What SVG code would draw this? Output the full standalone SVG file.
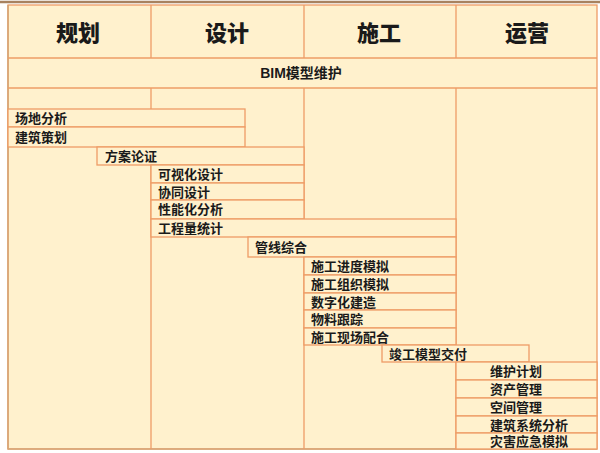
<svg xmlns="http://www.w3.org/2000/svg" width="600" height="453" viewBox="0 0 600 453">
<style>
.ln{stroke:#EE9C66;stroke-width:1.3;fill:none}
.bar{fill:#FFF1CD;stroke:#EE9C66;stroke-width:1.3}
.hd{font-family:"Noto Sans CJK SC","Liberation Sans",sans-serif;font-weight:900;font-size:22px;fill:#1a1a1a;text-anchor:middle}
.t{font-family:"Liberation Sans","Noto Sans CJK SC",sans-serif;font-weight:bold;font-size:13px;fill:#1a1a1a}
</style>
<rect x="0" y="0" width="600" height="453" fill="#ffffff"/>
<line x1="0" y1="2" x2="600" y2="2" stroke="#A8825F" stroke-width="2.5"/>
<g id="frame">
<rect x="8" y="5" width="589" height="444" fill="#FFF1CD" stroke="#EE9C66" stroke-width="1.3"/>
<line x1="8" y1="5" x2="8" y2="449.5" stroke="#D6A676" stroke-width="1.6"/>
<line x1="8" y1="449" x2="597" y2="449" stroke="#D6A676" stroke-width="1.6"/>
</g>
<g id="connectors">
<line class="ln" x1="151" y1="5" x2="151" y2="58"/>
<line class="ln" x1="304" y1="5" x2="304" y2="58"/>
<line class="ln" x1="456" y1="5" x2="456" y2="58"/>
<line class="ln" x1="8" y1="58" x2="597" y2="58"/>
<line class="ln" x1="8" y1="88" x2="597" y2="88"/>
<line class="ln" x1="151" y1="88" x2="151" y2="449"/>
<line class="ln" x1="304" y1="88" x2="304" y2="449"/>
<line class="ln" x1="456" y1="88" x2="456" y2="449"/>
</g>
<g id="h-plan"><text class="hd" x="78" y="41">规划</text></g>
<g id="h-design"><text class="hd" x="227" y="41">设计</text></g>
<g id="h-build"><text class="hd" x="379" y="41">施工</text></g>
<g id="h-ops"><text class="hd" x="527" y="41">运营</text></g>
<g id="bim"><text class="t" x="301" y="78" text-anchor="middle" style="font-size:14px">BIM模型维护</text></g>
<g id="n1"><rect class="bar" x="8" y="109" width="237" height="18"/><text class="t" x="15" y="122.7">场地分析</text></g>
<g id="n2"><rect class="bar" x="8" y="127" width="237" height="20"/><text class="t" x="15" y="141.7">建筑策划</text></g>
<g id="n3"><rect class="bar" x="97" y="147" width="207" height="18"/><text class="t" x="105" y="160.7">方案论证</text></g>
<g id="n4"><rect class="bar" x="151" y="165" width="153" height="18"/><text class="t" x="158" y="178.7">可视化设计</text></g>
<g id="n5"><rect class="bar" x="151" y="183" width="153" height="17"/><text class="t" x="158" y="196.5">协同设计</text></g>
<g id="n6"><rect class="bar" x="151" y="200" width="153" height="19"/><text class="t" x="158" y="214.2">性能化分析</text></g>
<g id="n7"><rect class="bar" x="151" y="219" width="305" height="18"/><text class="t" x="158" y="232.7">工程量统计</text></g>
<g id="n8"><rect class="bar" x="248" y="237" width="208" height="20"/><text class="t" x="255" y="251.7">管线综合</text></g>
<g id="n9"><rect class="bar" x="304" y="257" width="152" height="18"/><text class="t" x="311" y="270.7">施工进度模拟</text></g>
<g id="n10"><rect class="bar" x="304" y="275" width="152" height="18"/><text class="t" x="311" y="288.7">施工组织模拟</text></g>
<g id="n11"><rect class="bar" x="304" y="293" width="152" height="17"/><text class="t" x="311" y="306.5">数字化建造</text></g>
<g id="n12"><rect class="bar" x="304" y="310" width="152" height="18"/><text class="t" x="311" y="323.7">物料跟踪</text></g>
<g id="n13"><rect class="bar" x="304" y="328" width="152" height="17"/><text class="t" x="311" y="341.5">施工现场配合</text></g>
<g id="n14"><rect class="bar" x="382" y="345" width="147" height="17"/><text class="t" x="389" y="358.5">竣工模型交付</text></g>
<g id="n15"><rect class="bar" x="456" y="362" width="141" height="18"/><text class="t" x="490" y="375.7">维护计划</text></g>
<g id="n16"><rect class="bar" x="456" y="380" width="141" height="18"/><text class="t" x="490" y="393.7">资产管理</text></g>
<g id="n17"><rect class="bar" x="456" y="398" width="141" height="18"/><text class="t" x="490" y="411.7">空间管理</text></g>
<g id="n18"><rect class="bar" x="456" y="416" width="141" height="17"/><text class="t" x="490" y="429.5">建筑系统分析</text></g>
<g id="n19"><rect class="bar" x="456" y="433" width="141" height="16"/><text class="t" x="490" y="446">灾害应急模拟</text></g>
</svg>
